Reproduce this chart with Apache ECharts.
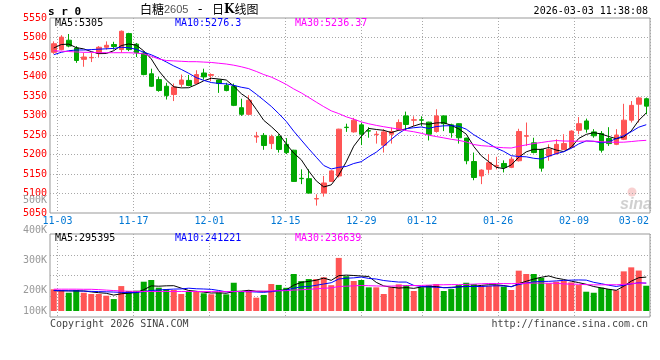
<!DOCTYPE html>
<html><head><meta charset="utf-8">
<script src="https://cdn.jsdelivr.net/npm/echarts@6/dist/echarts.min.js"></script>
<style>html,body{margin:0;padding:0;background:#fff}#c{width:660px;height:360px}</style>
</head><body><div id="c"></div>
<script>
// ---- data ----
const dates = ['10-31',
 '11-03','11-04','11-05','11-06','11-07','11-10','11-11','11-12','11-13','11-14',
 '11-17','11-18','11-19','11-20','11-21','11-24','11-25','11-26','11-27','11-28',
 '12-01','12-02','12-03','12-04','12-05','12-08','12-09','12-10','12-11','12-12',
 '12-15','12-16','12-17','12-18','12-19','12-22','12-23','12-24','12-25','12-26',
 '12-29','12-30','12-31','01-05','01-06','01-07','01-08','01-09',
 '01-12','01-13','01-14','01-15','01-16','01-19','01-20','01-21','01-22','01-23',
 '01-26','01-27','01-28','01-29','01-30','02-02','02-03','02-04','02-05','02-06',
 '02-09','02-10','02-11','02-12','02-13','02-24','02-25','02-26','02-27',
 '03-02','03-03'];
const opens  = [5462,5469,5493,5473,5444,5448,5459,5475,5482,5469,5510,5483,5460,5407,5392,5375,5354,5380,5390,5382,
                5409,5403,5391,5377,5375,5320,5303,5245,5249,5228,5246,5226,5211,5139,5138,5086,5101,5131,5145,5270,
                5258,5276,5261,5251,5224,5252,5263,5299,5288,5289,5283,5259,5299,5276,5279,5242,5182,5145,5162,5170,
                5177,5167,5184,5247,5230,5213,5196,5202,5213,5218,5262,5286,5258,5254,5241,5226,5239,5288,5329,5343];
const closes = [5484,5501,5478,5441,5450,5449,5475,5480,5477,5516,5469,5461,5405,5375,5364,5351,5373,5391,5377,5405,
                5399,5405,5382,5364,5326,5303,5339,5247,5223,5246,5213,5205,5131,5138,5101,5087,5127,5158,5265,5269,
                5288,5252,5260,5252,5258,5259,5282,5277,5289,5288,5252,5299,5279,5256,5243,5184,5141,5160,5179,5172,
                5167,5188,5259,5248,5205,5165,5213,5226,5228,5260,5279,5265,5248,5211,5228,5250,5288,5326,5345,5324];
const lows   = [5458,5467,5475,5435,5425,5437,5450,5469,5469,5461,5465,5450,5403,5373,5361,5341,5337,5373,5375,5380,
                5392,5388,5358,5362,5324,5299,5301,5230,5212,5214,5205,5201,5130,5124,5100,5069,5092,5130,5141,5258,
                5256,5224,5243,5228,5205,5228,5261,5262,5273,5273,5236,5256,5260,5243,5228,5175,5134,5124,5151,5162,
                5154,5165,5182,5222,5203,5156,5184,5200,5211,5216,5252,5256,5243,5205,5222,5224,5237,5282,5282,5303];
const highs  = [5490,5506,5509,5478,5461,5460,5478,5490,5489,5518,5512,5486,5465,5420,5399,5384,5382,5405,5404,5416,
                5420,5408,5392,5384,5382,5343,5352,5258,5255,5251,5252,5242,5212,5162,5162,5098,5145,5160,5266,5279,
                5294,5282,5270,5260,5265,5269,5290,5310,5298,5298,5284,5316,5300,5279,5280,5243,5205,5162,5201,5194,
                5185,5194,5266,5282,5243,5215,5226,5239,5252,5262,5296,5292,5265,5260,5270,5265,5330,5337,5347,5346];
const ma5  = [5473,5482,5483,5474,5470.8,5463.8,5458.6,5459.0,5466.2,5479.4,5483.4,5480.6,5465.6,5445.2,5414.8,5391.2,5373.6,5370.8,5371.2,5379.4,
              5389.0,5395.4,5393.6,5391.0,5375.2,5356.0,5342.8,5315.8,5287.6,5271.6,5253.6,5226.8,5203.6,5186.6,5157.6,5132.4,5116.8,5122.2,5147.6,5181.2,
              5221.4,5246.4,5266.8,5264.2,5262.0,5256.2,5262.2,5265.6,5273.0,5279.0,5277.6,5281.0,5281.4,5274.8,5265.8,5252.2,5220.6,5196.8,5181.4,5167.2,
              5163.8,5173.2,5193.0,5206.8,5213.4,5213.0,5218.0,5211.4,5207.4,5218.4,5241.2,5251.6,5256.0,5252.6,5246.2,5240.4,5245.0,5260.6,5287.4,5306.6];
const ma10 = [5456,5462,5466,5468,5468,5469,5470,5471,5472,5475.1,5473.6,5469.6,5462.3,5455.7,5447.1,5437.3,5427.1,5418.2,5408.2,5397.1,
              5390.1,5384.5,5382.2,5381.1,5377.3,5372.5,5369.1,5354.7,5339.3,5323.4,5304.8,5284.8,5259.7,5237.1,5214.6,5193.0,5171.8,5162.9,5167.1,5169.4,
              5176.9,5181.6,5194.5,5205.9,5221.6,5238.8,5254.3,5266.2,5268.6,5270.5,5266.9,5271.6,5273.5,5273.9,5272.4,5264.9,5250.8,5239.1,5228.1,5216.5,
              5208.0,5196.9,5194.9,5194.1,5190.3,5188.4,5195.6,5202.2,5207.1,5215.9,5227.1,5234.8,5233.7,5230.0,5232.3,5240.8,5248.3,5258.3,5270.0,5276.4];
const ma30 = [5466,5465,5464,5463,5462,5462,5461,5461,5461,5461,5461,5460,5458,5452,5445,5441,5440,5439,5438,5438,
              5437,5436,5434,5432,5429,5425,5420,5413,5405,5398.5,5389.5,5379.6,5368.1,5358.0,5346.3,5334.3,5322.7,5311.9,5304.9,5296.6,
              5290.6,5283.6,5278.8,5274.7,5271.2,5268.1,5265.1,5261.3,5258.3,5254.4,5249.5,5246.0,5242.6,5239.0,5236.2,5232.2,5225.6,5222.7,5221.3,5218.8,
              5217.3,5216.7,5221.0,5224.6,5228.1,5230.7,5233.6,5235.8,5234.6,5234.3,5234.0,5234.4,5234.0,5232.7,5231.7,5231.4,5231.6,5233.2,5235.1,5236.3];
// volume in thousands (K)
const volumes = [189,183,159,183,159,148,148,133,104,217,174,177,255,270,203,191,183,148,168,168,
                 154,145,159,145,246,168,183,116,140,235,227,202,322,260,278,278,294,225,462,303,
                 261,270,206,206,148,206,232,226,174,206,226,235,174,191,226,246,235,217,217,226,
                 212,183,351,322,322,290,241,255,264,249,226,168,159,203,191,180,345,380,352,220];
const vma5  = [178,176,175,175,174.6,166.4,159.4,154.2,138.4,150.0,155.2,161.0,185.4,218.6,215.8,219.2,220.4,199.0,178.6,171.6,
               164.2,156.6,158.8,154.2,169.8,172.6,180.2,171.6,170.6,168.4,180.2,184.0,225.2,249.2,257.8,268.0,286.4,267.0,307.4,312.4,
               309.0,304.2,300.4,249.2,218.2,207.2,199.6,203.6,197.2,208.8,212.8,213.4,203.0,206.4,210.4,214.4,214.4,223.0,228.2,228.2,
               221.4,211.0,237.8,258.8,278.0,293.6,305.2,286.0,274.4,259.8,247.0,232.4,213.2,201.0,189.4,180.2,215.6,259.8,289.6,295.4];
const vma10 = [178,177,176,175,173,171,169,167,165,162.3,160.8,160.2,169.8,178.5,182.9,187.2,190.7,192.2,198.6,193.7,
               191.7,188.5,178.9,166.4,170.7,168.4,168.4,165.2,162.4,169.1,176.4,182.1,198.4,209.9,213.1,224.1,235.2,246.1,278.3,285.1,
               288.5,295.3,283.7,278.3,265.3,258.1,251.9,252.0,223.2,213.5,210.0,206.5,203.3,201.8,209.6,213.6,213.9,213.0,217.3,219.3,
               217.9,212.7,230.4,243.5,253.1,257.5,258.1,261.9,266.6,268.9,270.3,268.8,249.6,237.7,224.6,213.6,224.0,236.5,245.3,242.4];
const vma30 = [190,190,190,190,189,189,186,182,178,174,172,171,170,170,170,170,170,170,170,170,
               169,169,169,169,169,170,171,172,173,175.0,176.3,176.9,182.4,184.9,188.9,193.2,198.1,201.2,213.1,216.0,
               218.9,222.0,220.3,218.2,216.4,216.9,218.5,221.1,221.3,222.6,225.0,228.0,228.5,230.0,229.3,231.9,233.7,237.0,239.6,239.3,
               238.8,238.2,239.1,241.2,242.7,243.1,241.3,242.3,235.7,233.9,232.7,229.3,227.8,227.7,229.1,228.2,232.0,237.1,243.1,243.5];
const dateTicks = ['11-03','11-17','12-01','12-15','12-29','01-12','01-26','02-09','03-02'];
const priceLegend = ['MA5:5305','MA10:5276.3','MA30:5236.37'];
const volLegend = ['MA5:295395','MA10:241221','MA30:236639'];

// ---- chart ----
const RED = '#ff5555', GREEN = '#00a800';
const MONO = '"DejaVu Sans Mono", monospace';
const GRIDLINE = {color: '#a8a8a8', type: [1, 2], width: 1};
const lastTick = dateTicks[dateTicks.length - 1];
// Sina spaces its date grid over (n-1) slots
const slotDates = dates.slice(0, dates.length - 1);
const isTick = (i, v) => dateTicks.indexOf(v) >= 0;
const isGrid = (i, v) => isTick(i, v) && v !== lastTick;
const hiddenCat = (grid, data) => ({type: 'category', gridIndex: grid, data: data, boundaryGap: true, show: false, position: 'top'});

const chart = echarts.init(document.getElementById('c'));
const lineS = (data, color, xi, yi) => ({type: 'line', data: data, xAxisIndex: xi, yAxisIndex: yi, symbol: 'none', showSymbol: false,
  silent: true, lineStyle: {color: color, width: 1}, itemStyle: {color: color}, emphasis: {disabled: true}});

chart.setOption({
  animation: false,
  grid: [
    {left: 50, right: 10, top: 18, height: 195, show: true, borderColor: '#999', borderWidth: 1},
    {left: 50, right: 10, top: 234, height: 83, show: true, borderColor: '#999', borderWidth: 1},
    {left: 50, right: 10, top: 200, height: 120, show: false}
  ],
  xAxis: [
    hiddenCat(0, dates),
    {type: 'category', gridIndex: 0, data: slotDates, boundaryGap: true, position: 'bottom',
      axisLine: {show: false}, axisTick: {show: false},
      axisLabel: {show: true, interval: isTick, color: '#0077d4', fontFamily: MONO, fontSize: 10, margin: 3,
        padding: [0, 7.6, 0, 0],
        formatter: v => v === lastTick ? '{e|' + v + '}' : v,
        rich: {e: {padding: [0, 17, 0, 0], color: '#0077d4', fontFamily: MONO, fontSize: 10}}},
      splitLine: {show: true, interval: isGrid, lineStyle: GRIDLINE}},
    hiddenCat(1, dates),
    {type: 'category', gridIndex: 1, data: slotDates, boundaryGap: true, position: 'bottom',
      axisLine: {show: false}, axisTick: {show: false}, axisLabel: {show: false},
      splitLine: {show: true, interval: isGrid, lineStyle: GRIDLINE}},
    hiddenCat(2, dates)
  ],
  yAxis: [
    {type: 'value', gridIndex: 0, min: 5050, max: 5550, interval: 50, position: 'left',
      axisLine: {show: false}, axisTick: {show: false},
      axisLabel: {color: '#ff0000', fontFamily: MONO, fontSize: 10, margin: 3, padding: [0, 0, 3, 0],
        showMinLabel: true, showMaxLabel: true, formatter: v => String(v)},
      splitLine: {show: true, lineStyle: GRIDLINE, showMinLine: false, showMaxLine: false}},
    {type: 'value', gridIndex: 1, min: -52, max: 670, position: 'left', show: false},
    {type: 'value', gridIndex: 1, min: 0, max: 4, interval: 1, position: 'right',
      axisLine: {show: false}, axisTick: {show: false}, axisLabel: {show: false},
      splitLine: {show: true, lineStyle: GRIDLINE, showMinLine: false, showMaxLine: false}},
    {type: 'value', gridIndex: 2, min: 100, max: 500, interval: 100, position: 'left',
      axisLine: {show: false}, axisTick: {show: false}, splitLine: {show: false},
      axisLabel: {color: '#999', fontFamily: MONO, fontSize: 10, margin: 3, showMinLabel: true, showMaxLabel: true,
        formatter: v => v === 100 ? '{b|' + v + 'K}' : v + 'K',
        rich: {b: {padding: [0, 0, 18, 0], color: '#999', fontFamily: MONO, fontSize: 10}}}}
  ],
  series: [
    {type: 'candlestick', xAxisIndex: 0, yAxisIndex: 0, barWidth: 5, silent: true,
      data: dates.map((d, i) => [opens[i], closes[i], lows[i], highs[i]]),
      itemStyle: {color: RED, color0: GREEN, borderColor: RED, borderColor0: GREEN, borderWidth: 1}},
    lineS(ma5, '#000000', 0, 0),
    lineS(ma10, '#0000ff', 0, 0),
    lineS(ma30, '#ff00ff', 0, 0),
    {type: 'bar', xAxisIndex: 2, yAxisIndex: 1, barWidth: 6, silent: true, data: volumes,
      itemStyle: {color: p => closes[p.dataIndex] >= opens[p.dataIndex] ? RED : GREEN}},
    lineS(vma5, '#000000', 2, 1),
    lineS(vma10, '#0000ff', 2, 1),
    lineS(vma30, '#ff00ff', 2, 1)
  ],
  graphic: [
    {type: 'text', x: 48, y: 12, style: {text: 's r 0', font: 'bold 11px ' + MONO, fill: '#000', align: 'left', verticalAlign: 'middle'}},
    {type: 'text', x: 140, y: 9.5, style: {
      text: '{c|白糖}{n|2605}{d| - }{c|日}{k|K}{c|线图}', align: 'left', verticalAlign: 'middle',
      rich: {c: {font: '12px "Noto Sans CJK SC"', fill: '#000'},
             n: {font: '11px "Liberation Sans"', fill: '#555'},
             d: {font: '13px ' + MONO, fill: '#000'},
             k: {font: 'bold 12px "DejaVu Serif"', fill: '#000'}}}},
    {type: 'text', x: 648, y: 11.7, style: {text: '2026-03-03 11:38:08', font: '10px ' + MONO, fill: '#000', align: 'right', verticalAlign: 'middle'}},
    {type: 'text', x: 55, y: 23.3, style: {text: priceLegend[0], font: '10px ' + MONO, fill: '#000', verticalAlign: 'middle'}},
    {type: 'text', x: 175, y: 23.3, style: {text: priceLegend[1], font: '10px ' + MONO, fill: '#0000ff', verticalAlign: 'middle'}},
    {type: 'text', x: 295, y: 23.3, style: {text: priceLegend[2], font: '10px ' + MONO, fill: '#ff00ff', verticalAlign: 'middle'}},
    {type: 'text', x: 55, y: 238.5, style: {text: volLegend[0], font: '10px ' + MONO, fill: '#000', verticalAlign: 'middle'}},
    {type: 'text', x: 175, y: 238.5, style: {text: volLegend[1], font: '10px ' + MONO, fill: '#0000ff', verticalAlign: 'middle'}},
    {type: 'text', x: 295, y: 238.5, style: {text: volLegend[2], font: '10px ' + MONO, fill: '#ff00ff', verticalAlign: 'middle'}},
    {type: 'text', x: 50, y: 324, style: {text: 'Copyright 2026 SINA.COM', font: '10px ' + MONO, fill: '#444', verticalAlign: 'middle'}},
    {type: 'text', x: 648, y: 324, style: {text: 'http://finance.sina.com.cn', font: '10px ' + MONO, fill: '#444', align: 'right', verticalAlign: 'middle'}},
    {type: 'circle', shape: {cx: 632, cy: 192, r: 4.5}, style: {fill: 'rgba(235,120,120,0.35)'}, silent: true},
    {type: 'text', x: 620, y: 205, style: {text: 'sina', font: 'italic bold 16px "Liberation Sans"', fill: 'rgba(150,150,150,0.45)', verticalAlign: 'middle'}, silent: true}
  ]
});
</script>
</body></html>
